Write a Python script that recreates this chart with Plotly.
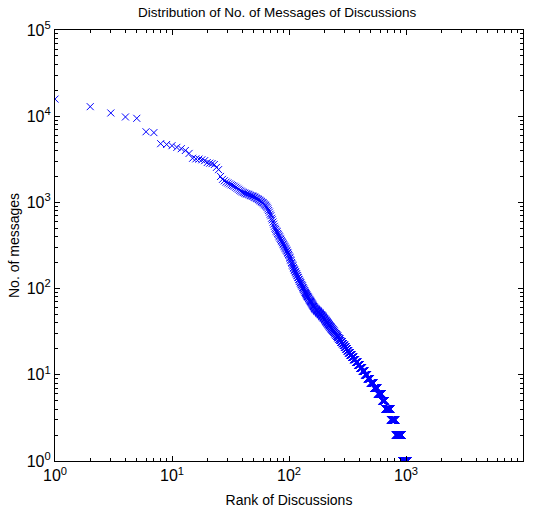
import numpy as np
import plotly.graph_objects as go

# Message counts of the most active discussions, in rank order (rank 1 first)
top_counts = [
    15800, 12900, 10900, 9800, 9450, 6600, 6450, 4800, 4700, 4550,
    4350, 4200, 4000, 3700, 3250, 3200, 3180, 3120, 3050, 2900,
    2850, 2820, 2750, 2550, 2400, 2000, 1850, 1780, 1720, 1680,
    1640, 1600, 1570, 1540, 1500, 1460, 1420, 1380, 1350, 1320,
    1300, 1280, 1260, 1250, 1240, 1220, 1200, 1190, 1180, 1165,
    1150, 1130, 1110, 1100, 1080, 1060, 1040, 1020, 1000, 990,
    965, 940, 925, 900, 875, 840, 805, 770, 730, 700,
    655, 628, 592, 560, 528, 502, 486, 466, 455, 436,
    425, 409, 398, 383, 373, 360, 351, 341, 330, 323,
    312, 305, 295, 289, 279, 273, 263, 258, 249, 242,
    232, 226, 216, 211, 201, 196, 188, 183, 175, 171,
    165, 163, 157, 155, 149, 148, 142, 141, 135, 134,
    128, 127, 122, 121, 117, 116, 112, 111, 108, 107,
    103, 102, 99, 98, 95, 94, 91, 90, 88, 87,
    85, 84, 82, 81, 80, 79, 77, 77, 75, 74,
    73, 72, 71, 70, 69, 68, 67, 66, 65, 64,
    63, 62, 62, 61, 60, 59, 59,
]

# Smaller discussions: message count and how many discussions have that count
tail_values = [
    58, 57, 56, 55, 54, 53, 52, 51, 50, 49, 48, 47, 46, 45, 44, 43, 42, 41,
    40, 39, 38, 37, 36, 35, 34, 33, 32, 31, 30, 29, 28, 27, 26, 25, 24, 23,
    22, 21, 20, 19, 18, 17, 16, 15, 14, 13, 12, 11, 10, 9, 8, 7, 6, 5, 4, 3,
    2, 1,
]
tail_freq = [
    2, 2, 2, 3, 2, 2, 3, 2, 3, 2, 3, 2, 3, 2, 3, 2, 3, 3,
    3, 3, 3, 3, 4, 3, 4, 4, 4, 4, 5, 4, 5, 6, 5, 6, 7, 7,
    7, 8, 8, 9, 10, 11, 12, 15, 16, 17, 19, 21, 24, 28, 34, 42, 52, 40, 75, 75,
    110, 110,
]

decade_vals = [1, 10, 100, 1000, 10000, 100000]
decade_text = ["10<sup>0</sup>", "10<sup>1</sup>", "10<sup>2</sup>",
               "10<sup>3</sup>", "10<sup>4</sup>", "10<sup>5</sup>"]

counts = np.concatenate([np.array(top_counts, dtype=float),
                         np.repeat(tail_values, tail_freq).astype(float)])
ranks = np.arange(1, len(counts) + 1)

FONT = "Liberation Sans, Arial, Helvetica, sans-serif"

fig = go.Figure()
fig.add_trace(go.Scatter(
    x=ranks, y=counts, mode="markers",
    marker=dict(symbol="x-thin", size=7,
                line=dict(color="#0000FF", width=1), color="#0000FF"),
    showlegend=False,
))

axis_common = dict(
    type="log",
    showgrid=False,
    zeroline=False,
    showline=True,
    linecolor="black",
    linewidth=1.2,
    mirror="allticks",
    ticks="inside",
    ticklen=5,
    tickcolor="black",
    tickwidth=1,
    tickfont=dict(family=FONT, size=16, color="black"),
    minor=dict(ticks="inside", ticklen=3, tickcolor="black", tickwidth=1,
               dtick="D1", showgrid=False),
)

fig.update_xaxes(
    range=[0, 4],
    tickvals=decade_vals[:5],
    ticktext=decade_text[:5],
    title=dict(text="Rank of Discussions", font=dict(family=FONT, size=14, color="black"),
               standoff=11),
    **axis_common,
)
fig.update_yaxes(
    range=[0, 5],
    tickvals=decade_vals,
    ticktext=decade_text,
    title=dict(text="No. of messages", font=dict(family=FONT, size=14, color="black"),
               standoff=3),
    **axis_common,
)

fig.update_layout(
    width=533, height=516,
    margin=dict(l=55, r=10, t=30, b=55),
    paper_bgcolor="white",
    plot_bgcolor="white",
    title=dict(text="Distribution of No. of Messages of Discussions",
               font=dict(family=FONT, size=13.5, color="black"),
               x=0.52, xanchor="center", y=0.976, yanchor="middle"),
)

fig.write_html("out.html")
